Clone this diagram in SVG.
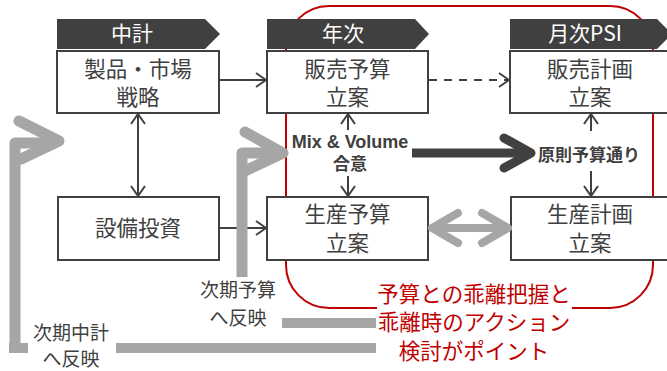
<svg xmlns="http://www.w3.org/2000/svg" width="667" height="371" viewBox="0 0 667 371">
<defs>
<style>
.box{fill:#fff;stroke:#404040;stroke-width:2}
.hdr{fill:#404040}
.ht{fill:#fff;font-family:"Noto Sans CJK JP","Liberation Sans",sans-serif;font-size:21px;text-anchor:middle}
.bt{fill:#404040;font-family:"Noto Sans CJK JP",sans-serif;font-size:21.5px;text-anchor:middle}
.lt{fill:#404040;font-family:"Noto Sans CJK JP",sans-serif;font-size:19px;text-anchor:middle}
.bold{fill:#404040;font-family:"Liberation Sans","Noto Sans CJK JP",sans-serif;font-weight:bold;text-anchor:middle}
.red{fill:#C00000;font-family:"Noto Sans CJK JP",sans-serif;font-size:21.5px;text-anchor:middle}
.thin{fill:none;stroke:#404040;stroke-width:2}
</style>
<marker id="ah" viewBox="0 0 12 16" refX="11" refY="8" markerWidth="12" markerHeight="16" markerUnits="userSpaceOnUse" orient="auto-start-reverse">
<polyline points="1,1 11,8 1,15" fill="none" stroke="#404040" stroke-width="2"/>
</marker>
</defs>
<rect width="667" height="371" fill="#fff"/>

<g id="frame">
<path d="M377,308 H329 A43,43 0 0 1 286,265 V49 A43,43 0 0 1 329,6 H610 A43,43 0 0 1 653,49 V265 A43,43 0 0 1 610,308 H572" fill="none" stroke="#C00000" stroke-width="2"/>
</g>

<g id="hdr-chukei">
<polygon class="hdr" points="57,19 205,19 220,34 205,49 57,49"/>
<text class="ht" x="132" y="41">中計</text>
</g>
<g id="hdr-nenji">
<polygon class="hdr" points="267,19 415,19 429,34 415,49 267,49"/>
<text class="ht" x="343" y="41">年次</text>
</g>
<g id="hdr-getsuji">
<polygon class="hdr" points="510,19 657,19 672,34 657,49 510,49"/>
<text class="ht" x="585" y="41">月次PSI</text>
</g>

<g id="node-seihin">
<rect class="box" x="57" y="51" width="162" height="62"/>
<text class="bt" x="138" y="77">製品・市場</text>
<text class="bt" x="138" y="105">戦略</text>
</g>
<g id="node-hanbai-yosan">
<rect class="box" x="267" y="51" width="161" height="62"/>
<text class="bt" x="347.5" y="77">販売予算</text>
<text class="bt" x="347.5" y="105">立案</text>
</g>
<g id="node-hanbai-keikaku">
<rect class="box" x="510" y="51" width="170" height="62"/>
<text class="bt" x="590" y="77">販売計画</text>
<text class="bt" x="590" y="105">立案</text>
</g>
<g id="node-setsubi">
<rect class="box" x="58" y="197" width="161" height="63"/>
<text class="bt" x="138" y="236">設備投資</text>
</g>
<g id="node-seisan-yosan">
<rect class="box" x="267" y="197" width="161" height="63"/>
<text class="bt" x="347.5" y="222">生産予算</text>
<text class="bt" x="347.5" y="251">立案</text>
</g>
<g id="node-seisan-keikaku">
<rect class="box" x="511" y="197" width="170" height="63"/>
<text class="bt" x="590" y="222">生産計画</text>
<text class="bt" x="590" y="251">立案</text>
</g>

<g id="connectors">
<line class="thin" x1="219" y1="80" x2="266" y2="80" marker-end="url(#ah)"/>
<line class="thin" x1="219" y1="228" x2="266" y2="228" marker-end="url(#ah)"/>
<line class="thin" x1="429" y1="80" x2="509" y2="80" stroke-dasharray="8,7" marker-end="url(#ah)"/>
<line class="thin" x1="138" y1="114" x2="138" y2="196" marker-start="url(#ah)" marker-end="url(#ah)"/>
<line class="thin" x1="348" y1="130" x2="348" y2="114" marker-end="url(#ah)"/>
<line class="thin" x1="348" y1="176" x2="348" y2="196" marker-end="url(#ah)"/>
<line class="thin" x1="591" y1="131" x2="591" y2="114" marker-end="url(#ah)"/>
<line class="thin" x1="591" y1="171" x2="591" y2="196" marker-end="url(#ah)"/>

<g fill="none" stroke="#404040" stroke-width="9" stroke-linecap="round" stroke-linejoin="round">
<line x1="412" y1="153" x2="528" y2="153" stroke-linecap="butt"/>
<polyline points="504,138 531,153 504,168"/>
</g>

<g fill="none" stroke="#A6A6A6" stroke-width="8" stroke-linecap="round" stroke-linejoin="round">
<line x1="436" y1="228" x2="504" y2="228"/>
<polyline points="458,213 432,228 458,243"/>
<polyline points="482,213 508,228 482,243"/>
</g>

<g fill="none" stroke="#A6A6A6" stroke-width="11" stroke-linejoin="round">
<path d="M15,348 V143 H55"/>
<polyline points="19,121 59,141 21,159" stroke-linecap="round"/>
<path d="M242,277 V153 H280"/>
<polyline points="245,132 283,153 247,170" stroke-linecap="round"/>
</g>
<g fill="#A6A6A6">
<rect x="9" y="343" width="19" height="10"/>
<rect x="116" y="343" width="260" height="10"/>
<rect x="282" y="318" width="94" height="10"/>
</g>
</g>

<g id="labels">
<text class="bold" x="350" y="148" font-size="18">Mix &amp; Volume</text>
<text class="bold" x="350" y="170" font-size="17">合意</text>
<text class="bold" x="589" y="161" font-size="17">原則予算通り</text>
<text class="lt" x="238" y="297">次期予算</text>
<text class="lt" x="238" y="325">へ反映</text>
<text class="lt" x="71" y="340">次期中計</text>
<text class="lt" x="71" y="366">へ反映</text>
<text class="red" x="474" y="302">予算との乖離把握と</text>
<text class="red" x="474" y="330">乖離時のアクション</text>
<text class="red" x="474" y="359">検討がポイント</text>
</g>
</svg>
